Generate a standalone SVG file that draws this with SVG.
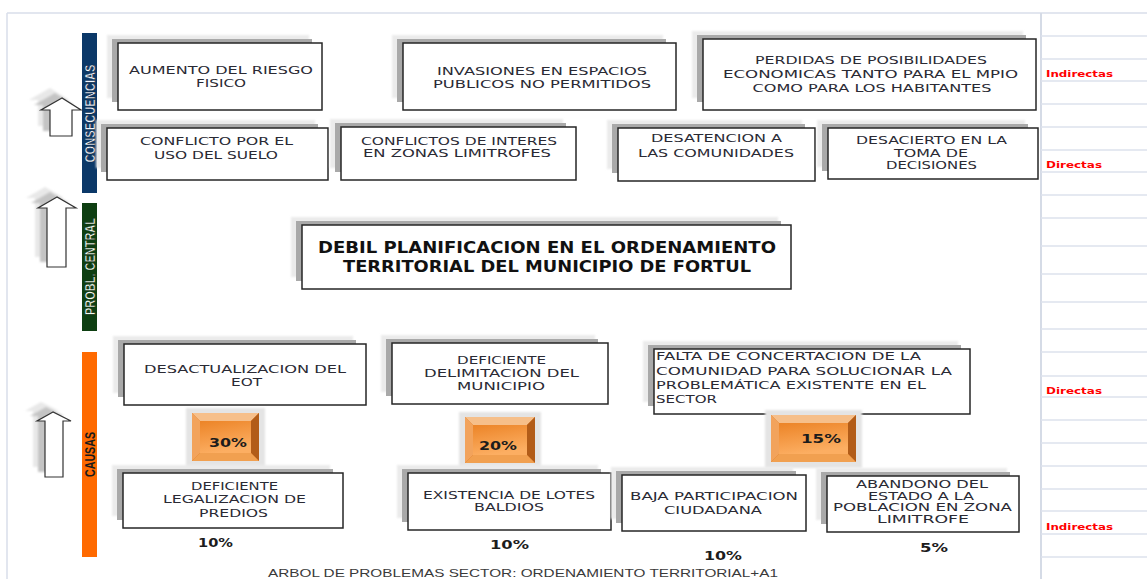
<svg xmlns="http://www.w3.org/2000/svg" width="1147" height="579" viewBox="0 0 1147 579">
<defs>
<style>
.frame{stroke:#d9deea;stroke-width:1.5;fill:none}
.grid{stroke:#dde2ec;stroke-width:1.5}
.box{fill:#fff;stroke:#262626;stroke-width:1.5}
.sh{fill:#a9a9a9}
.halo{fill:#ebebeb}
.t{font-family:"DejaVu Sans","Liberation Sans",sans-serif;font-size:11px;fill:#2a2a34;text-anchor:middle}
.tl{font-family:"DejaVu Sans","Liberation Sans",sans-serif;font-size:11px;fill:#2a2a34}
.ts{font-size:9.6px}
.tc{font-family:"DejaVu Sans","Liberation Sans",sans-serif;font-size:15px;font-weight:bold;fill:#111;text-anchor:middle}
.pct{font-family:"DejaVu Sans","Liberation Sans",sans-serif;font-size:13px;font-weight:bold;fill:#1c1c1c;text-anchor:middle}
.red{font-family:"DejaVu Sans","Liberation Sans",sans-serif;font-size:8.5px;font-weight:bold;fill:#ff0000}
.bar{font-family:"Liberation Sans","DejaVu Sans",sans-serif;font-size:14px;font-weight:bold;text-anchor:middle}
.cap{font-family:"Liberation Sans","DejaVu Sans",sans-serif;font-size:11px;fill:#3a3a3a}
.arrow{fill:#fff;stroke:#333;stroke-width:1.2}
.ash1{fill:#c4c4c4}
.ash2{fill:#e8e8e8}
</style>
<filter id="blur" x="-10%" y="-10%" width="120%" height="120%"><feGaussianBlur stdDeviation="1.2"/></filter>
<linearGradient id="face" x1="0" y1="0" x2="0.3" y2="1">
<stop offset="0" stop-color="#ec8427"/><stop offset="1" stop-color="#fcae62"/>
</linearGradient>
</defs>

<rect x="0" y="0" width="1147" height="579" fill="#fff"/>

<g id="frame">
<line class="frame" x1="7" y1="13" x2="1147" y2="13"/>
<line class="frame" x1="7" y1="13" x2="7" y2="579"/>
<line x1="1041" y1="13" x2="1041" y2="579" stroke="#d5dbe6" stroke-width="2"/>
<g class="grid">
<line x1="1041" y1="36" x2="1147" y2="36"/><line x1="1041" y1="59" x2="1147" y2="59"/>
<line x1="1041" y1="81" x2="1147" y2="81"/><line x1="1041" y1="104" x2="1147" y2="104"/>
<line x1="1041" y1="127" x2="1147" y2="127"/><line x1="1041" y1="150" x2="1147" y2="150"/>
<line x1="1041" y1="172" x2="1147" y2="172"/><line x1="1041" y1="195" x2="1147" y2="195"/>
<line x1="1041" y1="218" x2="1147" y2="218"/><line x1="1041" y1="246" x2="1147" y2="246"/>
<line x1="1041" y1="274" x2="1147" y2="274"/><line x1="1041" y1="302" x2="1147" y2="302"/>
<line x1="1041" y1="329" x2="1147" y2="329"/><line x1="1041" y1="352" x2="1147" y2="352"/>
<line x1="1041" y1="376" x2="1147" y2="376"/><line x1="1041" y1="397" x2="1147" y2="397"/>
<line x1="1041" y1="420" x2="1147" y2="420"/><line x1="1041" y1="443" x2="1147" y2="443"/>
<line x1="1041" y1="466" x2="1147" y2="466"/><line x1="1041" y1="489" x2="1147" y2="489"/>
<line x1="1041" y1="511" x2="1147" y2="511"/><line x1="1041" y1="534" x2="1147" y2="534"/>
<line x1="1041" y1="557" x2="1147" y2="557"/>
</g>
<text class="red" x="1046" y="77" textLength="67" lengthAdjust="spacingAndGlyphs">Indirectas</text>
<text class="red" x="1046" y="168" textLength="56" lengthAdjust="spacingAndGlyphs">Directas</text>
<text class="red" x="1046" y="394" textLength="56" lengthAdjust="spacingAndGlyphs">Directas</text>
<text class="red" x="1046" y="530" textLength="67" lengthAdjust="spacingAndGlyphs">Indirectas</text>
</g>

<g id="side-bars">
<rect x="82" y="33" width="15" height="160" fill="#0b3868"/>
<text class="bar" transform="translate(94.5,113.5) rotate(-90)" textLength="98" lengthAdjust="spacingAndGlyphs" fill="#f2f6ff" stroke="#061a33" stroke-width="0.5">CONSECUENCIAS</text>
<rect x="82" y="203" width="15" height="128" fill="#0e3f12"/>
<text class="bar" transform="translate(94.5,266.5) rotate(-90)" textLength="97" lengthAdjust="spacingAndGlyphs" fill="#f2fff2" stroke="#062006" stroke-width="0.5">PROBL. CENTRAL</text>
<rect x="82" y="352" width="15" height="205" fill="#ff6a00"/>
<text class="bar" transform="translate(94.5,454.5) rotate(-90)" textLength="45" lengthAdjust="spacingAndGlyphs" fill="#1a1a1a">CAUSAS</text>
</g>

<g id="arrows" filter="url(#blur)">
<polygon class="ash2" points="50,88 29,100 38,100 38,126 60,126 60,100 69,100"/>
<polygon class="ash1" points="55,93 34,105 43,105 43,131 65,131 65,105 74,105"/>
<polygon class="ash2" points="45,187 26,198 35,198 35,257 54,257 54,198 64,198"/>
<polygon class="ash1" points="50,192 31,203 40,203 40,262 59,262 59,203 69,203"/>
<polygon class="ash2" points="41,402 25,411 33,411 33,467 51,467 51,411 59,411"/>
<polygon class="ash1" points="46,407 30,416 38,416 38,472 56,472 56,416 64,416"/>
</g>
<g id="arrows-fg">
<polygon class="arrow" points="62,98 41,110 50,110 50,136 72,136 72,110 81,110"/>
<polygon class="arrow" points="57,197 38,208 47,208 47,267 66,267 66,208 76,208"/>
<polygon class="arrow" points="53,412 37,421 45,421 45,477 63,477 63,421 71,421"/>
</g>

<g id="connectors"></g>

<g id="n-aumento">
<rect class="halo" x="107" y="35" width="202" height="63" filter="url(#blur)"/>
<rect class="sh" x="112" y="39" width="200" height="63"/>
<rect class="box" x="118" y="43" width="204" height="67"/>
<text class="t" x="221" y="74" textLength="184" lengthAdjust="spacingAndGlyphs">AUMENTO  DEL RIESGO</text>
<text class="t" x="221" y="87" textLength="50" lengthAdjust="spacingAndGlyphs">FISICO</text>
</g>

<g id="n-invasiones">
<rect class="halo" x="392" y="35" width="271" height="63" filter="url(#blur)"/>
<rect class="sh" x="397" y="39" width="269" height="63"/>
<rect class="box" x="403" y="43" width="273" height="67"/>
<text class="t" x="542" y="75" textLength="210" lengthAdjust="spacingAndGlyphs">INVASIONES EN ESPACIOS</text>
<text class="t" x="542" y="88" textLength="218" lengthAdjust="spacingAndGlyphs">PUBLICOS NO PERMITIDOS</text>
</g>

<g id="n-perdidas">
<rect class="halo" x="692" y="31" width="331" height="67" filter="url(#blur)"/>
<rect class="sh" x="697" y="35" width="329" height="67"/>
<rect class="box" x="703" y="39" width="333" height="71"/>
<text class="t" x="871" y="64" textLength="232" lengthAdjust="spacingAndGlyphs">PERDIDAS DE POSIBILIDADES</text>
<text class="t" x="870.5" y="78" textLength="295" lengthAdjust="spacingAndGlyphs">ECONOMICAS TANTO PARA EL MPIO</text>
<text class="t" x="872" y="92" textLength="239" lengthAdjust="spacingAndGlyphs">COMO PARA LOS HABITANTES</text>
</g>

<g id="n-conflicto-suelo">
<rect class="halo" x="96" y="120" width="219" height="48" filter="url(#blur)"/>
<rect class="sh" x="101" y="124" width="217" height="48"/>
<rect class="box" x="107" y="128" width="221" height="52"/>
<text class="t" x="216.5" y="145" textLength="153" lengthAdjust="spacingAndGlyphs">CONFLICTO POR EL</text>
<text class="t" x="216" y="159" textLength="124" lengthAdjust="spacingAndGlyphs">USO DEL SUELO</text>
</g>

<g id="n-conflictos-interes">
<rect class="halo" x="330" y="119" width="233" height="49" filter="url(#blur)"/>
<rect class="sh" x="335" y="123" width="231" height="49"/>
<rect class="box" x="341" y="127" width="235" height="53"/>
<text class="t" x="459" y="145" textLength="196" lengthAdjust="spacingAndGlyphs">CONFLICTOS DE INTERES</text>
<text class="t" x="457" y="157" textLength="188" lengthAdjust="spacingAndGlyphs">EN ZONAS LIMITROFES</text>
</g>

<g id="n-desatencion">
<rect class="halo" x="607" y="120" width="195" height="49" filter="url(#blur)"/>
<rect class="sh" x="612" y="124" width="193" height="49"/>
<rect class="box" x="618" y="128" width="197" height="53"/>
<text class="t" x="716.5" y="142" textLength="131" lengthAdjust="spacingAndGlyphs">DESATENCION  A</text>
<text class="t" x="716" y="157" textLength="156" lengthAdjust="spacingAndGlyphs">LAS COMUNIDADES</text>
</g>

<g id="n-desacierto">
<rect class="halo" x="817" y="120" width="208" height="47" filter="url(#blur)"/>
<rect class="sh" x="822" y="124" width="206" height="47"/>
<rect class="box" x="828" y="128" width="210" height="51"/>
<text class="t" x="931.5" y="144" textLength="151" lengthAdjust="spacingAndGlyphs">DESACIERTO  EN LA</text>
<text class="t" x="931" y="156.5" textLength="74" lengthAdjust="spacingAndGlyphs">TOMA DE</text>
<text class="t" x="931.5" y="169" textLength="91" lengthAdjust="spacingAndGlyphs">DECISIONES</text>
</g>

<g id="n-central">
<rect class="halo" x="291" y="217" width="487" height="60" filter="url(#blur)"/>
<rect class="sh" x="296" y="221" width="485" height="60"/>
<rect class="box" x="302" y="225" width="489" height="64"/>
<text class="tc" x="547" y="253" textLength="458" lengthAdjust="spacingAndGlyphs">DEBIL PLANIFICACION EN EL ORDENAMIENTO</text>
<text class="tc" x="547" y="271.5" textLength="408" lengthAdjust="spacingAndGlyphs">TERRITORIAL DEL MUNICIPIO DE FORTUL</text>
</g>

<g id="n-desactualizacion">
<rect class="halo" x="113" y="336" width="240" height="57" filter="url(#blur)"/>
<rect class="sh" x="118" y="340" width="238" height="57"/>
<rect class="box" x="124" y="344" width="242" height="61"/>
<text class="t" x="245" y="373" textLength="202" lengthAdjust="spacingAndGlyphs">DESACTUALIZACION  DEL</text>
<text class="t" x="246.5" y="386" textLength="31" lengthAdjust="spacingAndGlyphs">EOT</text>
</g>

<g id="n-delimitacion">
<rect class="halo" x="381" y="335" width="214" height="57" filter="url(#blur)"/>
<rect class="sh" x="386" y="339" width="212" height="57"/>
<rect class="box" x="392" y="343" width="216" height="61"/>
<text class="t" x="501.5" y="364" textLength="89" lengthAdjust="spacingAndGlyphs">DEFICIENTE</text>
<text class="t" x="501.5" y="377" textLength="155" lengthAdjust="spacingAndGlyphs">DELIMITACION  DEL</text>
<text class="t" x="501" y="390" textLength="88" lengthAdjust="spacingAndGlyphs">MUNICIPIO</text>
</g>

<g id="n-falta">
<rect class="halo" x="643" y="341" width="315" height="61" filter="url(#blur)"/>
<rect class="sh" x="648" y="345" width="313" height="61"/>
<rect class="box" x="654" y="349" width="316" height="65"/>
<text class="tl" x="656" y="360" textLength="265" lengthAdjust="spacingAndGlyphs">FALTA DE CONCERTACION  DE LA</text>
<text class="tl" x="656" y="375" textLength="296" lengthAdjust="spacingAndGlyphs">COMUNIDAD  PARA SOLUCIONAR  LA</text>
<text class="tl" x="656" y="389" textLength="270" lengthAdjust="spacingAndGlyphs">PROBLEMÁTICA EXISTENTE   EN  EL</text>
<text class="tl" x="656" y="403" textLength="61" lengthAdjust="spacingAndGlyphs">SECTOR</text>
</g>

<g id="n-pct30">
<rect x="186" y="408" width="79" height="59" fill="#e4e4e4" filter="url(#blur)"/>
<rect x="192" y="413" width="67" height="48" fill="#d9731f"/>
<polygon points="192,413 259,413 251,421 200,421" fill="#f6bf8a"/>
<polygon points="192,413 200,421 200,453 192,461" fill="#f2a35c"/>
<polygon points="259,413 259,461 251,453 251,421" fill="#b25c18"/>
<polygon points="192,461 259,461 251,453 200,453" fill="#f1a050"/>
<rect x="200" y="421" width="51" height="32" fill="url(#face)"/>
<text class="pct" x="228" y="447" textLength="38" lengthAdjust="spacingAndGlyphs">30%</text>
</g>

<g id="n-pct20">
<rect x="459" y="412" width="82" height="57" fill="#e4e4e4" filter="url(#blur)"/>
<rect x="465" y="417" width="70" height="46" fill="#d9731f"/>
<polygon points="465,417 535,417 527,425 473,425" fill="#f6bf8a"/>
<polygon points="465,417 473,425 473,455 465,463" fill="#f2a35c"/>
<polygon points="535,417 535,463 527,455 527,425" fill="#b25c18"/>
<polygon points="465,463 535,463 527,455 473,455" fill="#f1a050"/>
<rect x="473" y="425" width="54" height="30" fill="url(#face)"/>
<text class="pct" x="498" y="450" textLength="38" lengthAdjust="spacingAndGlyphs">20%</text>
</g>

<g id="n-pct15">
<rect x="765" y="410" width="97" height="58" fill="#e4e4e4" filter="url(#blur)"/>
<rect x="771" y="415" width="85" height="47" fill="#d9731f"/>
<polygon points="771,415 856,415 848,423 779,423" fill="#f6bf8a"/>
<polygon points="771,415 779,423 779,454 771,462" fill="#f2a35c"/>
<polygon points="856,415 856,462 848,454 848,423" fill="#b25c18"/>
<polygon points="771,462 856,462 848,454 779,454" fill="#f1a050"/>
<rect x="779" y="423" width="69" height="31" fill="url(#face)"/>
<text class="pct" x="821" y="443" textLength="40" lengthAdjust="spacingAndGlyphs">15%</text>
</g>

<g id="n-legalizacion">
<rect class="halo" x="112" y="465" width="218" height="51" filter="url(#blur)"/>
<rect class="sh" x="117" y="469" width="216" height="51"/>
<rect class="box" x="123" y="473" width="220" height="55"/>
<text class="t" x="234.5" y="490" textLength="87" lengthAdjust="spacingAndGlyphs">DEFICIENTE</text>
<text class="t" x="234.5" y="503" textLength="143" lengthAdjust="spacingAndGlyphs">LEGALIZACION DE</text>
<text class="t" x="233.5" y="517" textLength="69" lengthAdjust="spacingAndGlyphs">PREDIOS</text>
<text class="pct" x="215.5" y="547" textLength="35" lengthAdjust="spacingAndGlyphs">10%</text>
</g>

<g id="n-lotes">
<rect class="halo" x="397" y="465" width="201" height="53" filter="url(#blur)"/>
<rect class="sh" x="402" y="469" width="199" height="53"/>
<rect class="box" x="408" y="473" width="203" height="57"/>
<text class="t" x="509" y="498.5" textLength="172" lengthAdjust="spacingAndGlyphs">EXISTENCIA  DE LOTES</text>
<text class="t" x="509" y="510.5" textLength="70" lengthAdjust="spacingAndGlyphs">BALDIOS</text>
<text class="pct" x="509.5" y="549" textLength="39" lengthAdjust="spacingAndGlyphs">10%</text>
</g>

<g id="n-participacion">
<rect class="halo" x="611" y="467" width="182" height="52" filter="url(#blur)"/>
<rect class="sh" x="616" y="471" width="180" height="52"/>
<rect class="box" x="622" y="475" width="184" height="56"/>
<text class="t" x="714" y="500" textLength="168" lengthAdjust="spacingAndGlyphs">BAJA PARTICIPACION</text>
<text class="t" x="713" y="514" textLength="98" lengthAdjust="spacingAndGlyphs">CIUDADANA</text>
<text class="pct" x="723" y="560" textLength="38" lengthAdjust="spacingAndGlyphs">10%</text>
</g>

<g id="n-abandono">
<rect class="halo" x="816" y="468" width="191" height="52" filter="url(#blur)"/>
<rect class="sh" x="821" y="472" width="189" height="52"/>
<rect class="box" x="827" y="476" width="192" height="56"/>
<text class="t ts" x="922" y="488" textLength="132" lengthAdjust="spacingAndGlyphs">ABANDONO DEL</text>
<text class="t ts" x="921" y="499.5" textLength="106" lengthAdjust="spacingAndGlyphs">ESTADO A LA</text>
<text class="t ts" x="922.5" y="511" textLength="179" lengthAdjust="spacingAndGlyphs">POBLACION EN  ZONA</text>
<text class="t ts" x="923" y="522.5" textLength="92" lengthAdjust="spacingAndGlyphs">LIMITROFE</text>
<text class="pct" x="934" y="552" textLength="28" lengthAdjust="spacingAndGlyphs">5%</text>
</g>

<text class="cap" x="268" y="577" textLength="510" lengthAdjust="spacingAndGlyphs">ARBOL DE PROBLEMAS  SECTOR: ORDENAMIENTO TERRITORIAL+A1</text>
</svg>
